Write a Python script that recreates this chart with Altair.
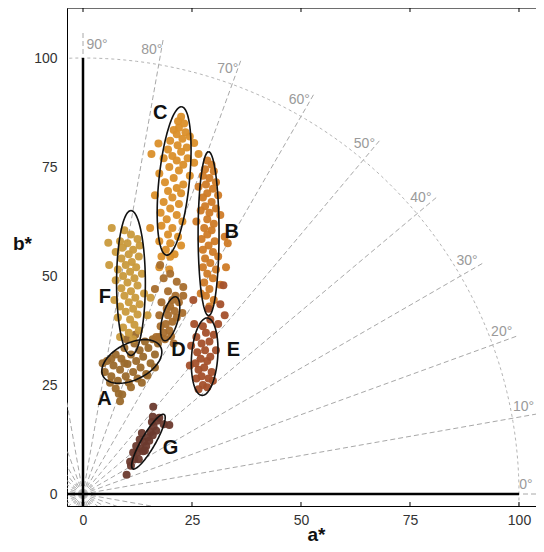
import altair as alt
import numpy as np
import pandas as pd

# ---------------- data ----------------
clusters = ["A", "B", "C", "D", "E", "F", "G"]
cluster_colors = ["#9b6a2c", "#cf7b27", "#da8f2a", "#a86e2d", "#a4502b", "#c99a3c", "#6b3a2e"]

A_pts = [(5,28),(5.5,30.5),(6.5,27),(7,29.5),(7.5,32),(8,26),(8.5,28.5),(8.8,31),(9.5,33.5),(9.8,27),
         (10.2,29.8),(10.5,25.5),(11,32),(11.5,28),(11.8,34.5),(12.2,30.5),(12.5,26.5),(13,33),(13.2,29),
         (13.8,31.5),(14.2,35),(14.5,27.5),(15,33.5),(15.5,30),(16,35.5),(16.5,32),(17.2,34.5),(17.5,36),
         (7.5,24.2),(8.2,23),(9,22.8),(11,24.5),(13.5,25.5),(14.8,27.2),(16.5,29),(6.2,25.5),(4.5,30),
         (12,36.5),(10,35.5),(8.5,21.3),(6.5,31),(9.5,30)]
B_pts = [(28.5,76.5),(29.5,75.5),(28,74.5),(30,74),(27.5,73),(29,72.5),(30.5,71.5),(28.2,71),(26.5,70.5),
         (29.8,70),(28.5,69),(31,68.5),(27.5,68),(29.5,67),(28,66),(30.5,65.5),(27,65),(29,64.5),(31.5,64),
         (28.5,63),(26,62.5),(30,62),(27.8,61),(29.5,60.5),(28.5,59.5),(32.5,59),(27.2,58.5),(30.2,58),
         (28.8,57),(27.5,56),(29.8,55.5),(31,54.5),(28,54),(29.2,53),(27.5,52),(30.5,51.5),(28.5,50.5),
         (29.8,49.5),(27.8,48.5),(31.5,48),(29,47),(28.2,45.5),(30,44.5),(29,43),(32.8,52),(33.2,57.5),(27,46)]
C_pts = [(22.5,86.5),(21.8,85.5),(23.2,85),(22,84),(20.8,83.5),(23.5,83),(21.5,82.5),(24.5,82),(22.8,81.5),
         (20,81),(25.5,80.5),(21.7,80),(23.8,79.5),(19.5,79),(22.5,78.5),(26.5,78),(20.5,77.5),(24,77),
         (18.5,77),(21.5,76.5),(25.5,76),(23,75.5),(15.7,78),(17.3,80.4),(19.8,75),(22,74.2),(17.5,73.5),
         (24.5,73),(20.8,72.5),(18.8,71.5),(23,71),(21.5,70.2),(19.5,69.5),(22.5,69),(16.5,68.5),(20.5,68),
         (18.5,67),(22,66.5),(20,65.5),(17.8,64.5),(21.5,64),(19.2,63),(22.8,62.5),(18,61.5),(20.5,61),
         (15.4,61),(19.5,59.5),(21.8,59),(17.5,58),(20,57.5),(22.5,57),(19,56),(21,55),(18,54.5),(20,54.4),
         (17.5,52),(19.8,51.5)]
D_pts = [(18.5,37),(19,39),(19.5,41),(20,43),(20.5,44.5),(21,42),(20.5,39.5),(19.8,37.5),(21.2,45.5),
         (18.8,35.5),(20.2,36.2),(21.5,40.5),(19.2,42.5),(22,44),(17.8,38.5),(21.5,48.7),(23,47.5),(19.5,46.5),
         (23,45.5),(18,44),(17.5,41),(22.8,41.5),(16.8,36),(20.8,34.5),(17.7,52.5),(18.5,49.5),(16.5,47),(20,50.5)]
E_pts = [(26.5,24),(27.5,25),(28.5,24.5),(26,26.5),(27.2,27),(28.8,26.5),(29.5,28),(26.5,28.5),(27.8,29),
         (25.8,30),(28.5,30.5),(27,31),(29.2,31.5),(26.2,32.5),(28,33),(27.2,34.5),(29,35),(26,36),(28.2,37),
         (30,36.5),(27.5,38.5),(31,39),(29.2,40),(25.5,39),(32.5,41),(24.8,34),(30.5,33),(29.8,26),(24.5,29.5),
         (31.5,43.5),(32.2,47.9),(28.8,42.5),(25.3,44.5)]
F_pts = [(9.5,60.5),(11,59.5),(6.6,61),(12.5,58.5),(8.5,58),(10.2,57.5),(5.8,57.6),(13,57),(9,56.5),(11.5,56),
         (7.5,55.5),(10.5,55),(12.8,54.5),(8.8,54),(11.2,53.2),(6,52.5),(9.8,52.5),(12.2,52),(8,51.5),(10.8,51),
         (13.5,50.5),(9.2,50),(11.8,49.5),(7.5,49),(10.2,48.5),(12.5,47.8),(8.8,47.2),(11,46.5),(14,46),(9.5,45.5),
         (12,45),(7.2,44.5),(10.5,44),(13,43.5),(8.5,43),(11.5,42.5),(9.8,41.8),(12.5,41.2),(8,40.5),(10.8,40),
         (11.8,38.8),(9.2,38.2),(12.8,37.5),(10.5,37),(8.5,36),(11.5,35.5),(15.5,45),(14.8,41)]
G_pts = [(11,6.5),(11.8,8),(12.5,9.5),(13.2,10.5),(14,12),(14.8,13),(15.5,14.2),(16.2,15.5),(17,16.8),(17.5,17.5),
         (12.8,8),(13.8,9.8),(14.5,11),(15.2,12.2),(16,13.5),(16.8,14.5),(12.2,11),(13,12.5),(15.8,16.5),(10,4.4),
         (10.8,7.4),(16.1,20),(19.8,15.8),(18.5,16),(13.5,14),(14.2,10),(11.5,9.5),(16,17.7)]
cluster_points = [A_pts, B_pts, C_pts, D_pts, E_pts, F_pts, G_pts]

# ellipses: centre, semi-axes, rotation (deg)
ell_cx = [11.2, 28.8, 20.9, 20.0, 27.9, 11.0, 15.0]
ell_cy = [30.4, 59.7, 71.8, 40.2, 31.5, 48.4, 12.0]
ell_major = [7.4, 18.8, 17.1, 5.2, 8.9, 16.6, 7.2]
ell_minor = [4.2, 2.4, 3.5, 1.8, 3.0, 3.3, 1.6]
ell_rot = [26.6, 90.0, 84.2, 75.0, 86.0, 90.0, 60.0]

# cluster letter labels
label_a = [4.9, 34.1, 17.7, 21.9, 34.5, 5.0, 20.1]
label_b = [21.9, 60.0, 87.5, 33.0, 33.0, 45.3, 10.5]

# hue-angle guides
hue_angles = list(range(0, 360, 10))
hue_label_angles = [0, 10, 20, 30, 40, 50, 60, 70, 80, 90]
hue_label_texts = ["0°", "10°", "20°", "30°", "40°", "50°", "60°", "70°", "80°", "90°"]
guide_radius = 106
label_radius = 103
arc_radius = 100

x_ticks = [0, 25, 50, 75, 100]
y_ticks = [0, 25, 50, 75, 100]

# ---------------- layout ----------------
W, H = 469, 498
x_dom = [-3.67, 103.9]
y_dom = [-2.75, 111.47]
xs = alt.Scale(domain=x_dom, nice=False, zero=False)
ys = alt.Scale(domain=y_dom, nice=False, zero=False)
FONT = "Liberation Sans"

xaxis = alt.Axis(values=x_ticks, title="a*", grid=False, ticks=False, domainColor="black",
                 labelFontSize=14, labelColor="#333333", labelPadding=7, labelFont=FONT,
                 titleFontSize=19, titleFont=FONT, titleFontWeight="bold", titleColor="#111111",
                 titleX=249, titleY=34, titleBaseline="alphabetic")
yaxis = alt.Axis(values=y_ticks, title="b*", grid=False, ticks=False, domainColor="black",
                 labelFontSize=14, labelColor="#333333", labelPadding=10, labelFont=FONT,
                 titleFontSize=19, titleFont=FONT, titleFontWeight="bold", titleColor="#111111",
                 titleAngle=0, titleX=-45, titleY=235, titleAlign="center", titleBaseline="middle")

def X(field="a"):
    return alt.X(f"{field}:Q", scale=xs, axis=xaxis)

def Y(field="b"):
    return alt.Y(f"{field}:Q", scale=ys, axis=yaxis)

# radial guide lines
rad_rows = []
for ang in hue_angles:
    t = np.radians(ang)
    rad_rows.append({"g": ang, "i": 0, "a": 0.0, "b": 0.0})
    rad_rows.append({"g": ang, "i": 1, "a": guide_radius * np.cos(t), "b": guide_radius * np.sin(t)})
rad_df = pd.DataFrame(rad_rows)
radials = alt.Chart(rad_df).mark_line(color="#a8a8a8", strokeWidth=1, strokeDash=[5, 3], clip=True).encode(
    x=X(), y=Y(), detail="g:N", order="i:Q")

# arc r=100
arc_t = np.radians(np.linspace(-4, 96, 200))
arc_df = pd.DataFrame({"a": arc_radius * np.cos(arc_t), "b": arc_radius * np.sin(arc_t), "i": np.arange(200)})
arc = alt.Chart(arc_df).mark_line(color="#b4b4b4", strokeWidth=1, strokeDash=[3, 3], clip=True).encode(
    x=X(), y=Y(), order="i:Q")

# small ring near origin
ring_t = np.radians(np.linspace(0, 360, 80))
ring_df = pd.DataFrame({"a": 2.6 * np.cos(ring_t), "b": 2.6 * np.sin(ring_t), "i": np.arange(80)})
ring = alt.Chart(ring_df).mark_line(color="#cccccc", strokeWidth=2.5, strokeDash=[2, 2], clip=True).encode(
    x=X(), y=Y(), order="i:Q")

# degree labels
lab_rows = []
for ang, txt in zip(hue_label_angles, hue_label_texts):
    off = -1.8 if ang == 90 else 1.2
    rr = 101.6 if ang == 0 else label_radius
    t = np.radians(ang + off)
    lab_rows.append({"a": rr * np.cos(t), "b": rr * np.sin(t), "t": txt})
deg_labels = alt.Chart(pd.DataFrame(lab_rows)).mark_text(
    font=FONT, fontSize=14, color="#9a9a9a", align="center", baseline="middle").encode(
    x=X(), y=Y(), text="t:N")

# thick axes lines at a*=0 and b*=0
vline = alt.Chart(pd.DataFrame({"a": [0, 0], "b": [y_dom[0], 100], "i": [0, 1]})).mark_line(
    color="black", strokeWidth=2.5, clip=True).encode(x=X(), y=Y(), order="i:Q")
hline = alt.Chart(pd.DataFrame({"a": [x_dom[0], 100], "b": [0, 0], "i": [0, 1]})).mark_line(
    color="black", strokeWidth=2.5, clip=True).encode(x=X(), y=Y(), order="i:Q")

# points
pt_rows = []
for name, pts in zip(clusters, cluster_points):
    for (pa, pb) in pts:
        pt_rows.append({"a": pa, "b": pb, "c": name})
pts_df = pd.DataFrame(pt_rows)
points = alt.Chart(pts_df).mark_circle(size=64, opacity=0.95).encode(
    x=X(), y=Y(),
    color=alt.Color("c:N", scale=alt.Scale(domain=clusters, range=cluster_colors), legend=None))

# ellipses
el_rows = []
tt = np.linspace(0, 2 * np.pi, 121)
for name, cx, cy, ma, mi, rot in zip(clusters, ell_cx, ell_cy, ell_major, ell_minor, ell_rot):
    r = np.radians(rot)
    ex = cx + ma * np.cos(tt) * np.cos(r) - mi * np.sin(tt) * np.sin(r)
    ey = cy + ma * np.cos(tt) * np.sin(r) + mi * np.sin(tt) * np.cos(r)
    for k in range(len(tt)):
        el_rows.append({"a": ex[k], "b": ey[k], "e": name, "i": k})
ellipses = alt.Chart(pd.DataFrame(el_rows)).mark_line(color="#111111", strokeWidth=1.6).encode(
    x=X(), y=Y(), detail="e:N", order="i:Q")

# cluster letters
letters = alt.Chart(pd.DataFrame({"a": label_a, "b": label_b, "t": clusters})).mark_text(
    font=FONT, fontSize=20, fontWeight="bold", color="#111111", align="center", baseline="middle").encode(
    x=X(), y=Y(), text="t:N")

# top frame + inward tick marks
frame_top = alt.Chart(pd.DataFrame({"a": [0]})).mark_rule(color="black", strokeWidth=1).encode(
    x=alt.value(0), x2=alt.value(W), y=alt.value(0))
tick_df = pd.DataFrame({"a": x_ticks})
ticks_top = alt.Chart(tick_df).mark_rule(color="black", strokeWidth=1).encode(
    x=X(), y=alt.value(0), y2=alt.value(4))
ticks_bot = alt.Chart(tick_df).mark_rule(color="black", strokeWidth=1).encode(
    x=X(), y=alt.value(H - 4), y2=alt.value(H))

chart = alt.layer(
    radials, arc, ring, deg_labels, points, ellipses, vline, hline, letters,
    frame_top, ticks_top, ticks_bot
).properties(
    width=W, height=H,
    autosize=alt.AutoSizeParams(type="none"),
    padding={"left": 59, "top": 0, "right": 0, "bottom": 38},
).configure_view(stroke=None).configure(background="white")

chart.save("out.html", embed_options={"renderer": "svg", "actions": False})
